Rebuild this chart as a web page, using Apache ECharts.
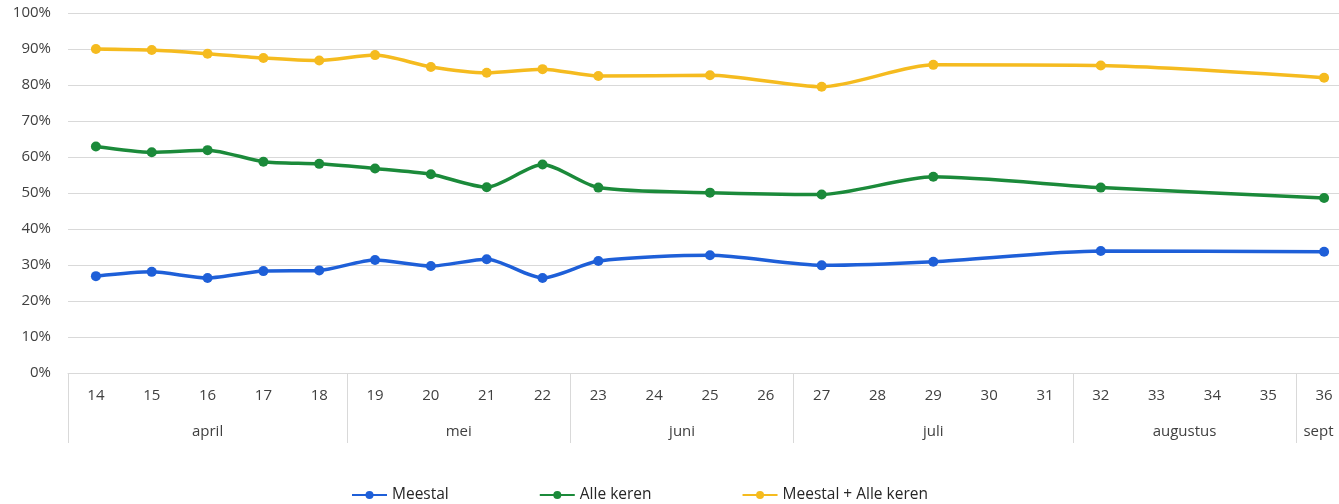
<!DOCTYPE html>
<html>
<head>
<meta charset="utf-8">
<script src="https://cdn.jsdelivr.net/npm/echarts@6/dist/echarts.min.js"></script>
<style>html,body{margin:0;padding:0;background:#fff;}#c{width:1339px;height:504px;}</style>
</head>
<body>
<div id="c"></div>
<script>
const weeks = ['14','15','16','17','18','19','20','21','22','23','24','25','26','27','28','29','30','31','32','33','34','35','36'];
const monthLabels = ['april','mei','juni','juli','augustus','sept'];
const monthCenters = [2, 6.5, 10.5, 15, 19.5, 21.9];
const monthBounds = [-0.5, 4.5, 8.5, 12.5, 17.5, 21.5];
const meestal =      [26.9, 28.1, 26.4, 28.3, 28.5, 31.4, 29.7, 31.6, 26.4, 31.1, null, 32.7, null, 29.9, null, 30.9, null, null, 33.9, null, null, null, 33.7];
const alleKeren =    [62.9, 61.3, 61.9, 58.7, 58.1, 56.8, 55.2, 51.6, 57.9, 51.5, null, 50.1, null, 49.6, null, 54.5, null, null, 51.5, null, null, null, 48.6];
const meestalAlle =  [90.0, 89.7, 88.7, 87.5, 86.8, 88.3, 85.0, 83.4, 84.4, 82.5, null, 82.7, null, 79.5, null, 85.6, null, null, 85.4, null, null, null, 82.0];
const seriesNames = ['Meestal', 'Alle keren', 'Meestal + Alle keren'];
const colors = ['#1e5fd8', '#1b8a3a', '#f5bb1f'];

const chart = echarts.init(document.getElementById('c'), null, {renderer: 'canvas'});
const font = '"Open Sans", "Noto Sans", sans-serif';
const mk = (name, data, color) => ({
  name: name, type: 'line', data: data, smooth: 0.25, connectNulls: true,
  symbol: 'circle', symbolSize: 10,
  lineStyle: {width: 3.5, color: color}, itemStyle: {color: color}
});
chart.setOption({
  animation: false,
  textStyle: {fontFamily: font},
  grid: {left: 68, right: -13, top: 13, bottom: 131, outerBoundsMode: 'none', containLabel: false},
  legend: {
    left: 346, top: 482, itemWidth: 35, itemHeight: 10, itemGap: 90,
    textStyle: {fontSize: 15.5, color: '#262626', fontFamily: font},
    data: seriesNames
  },
  xAxis: [
    {
      type: 'category', data: weeks, boundaryGap: true,
      axisLine: {lineStyle: {color: '#d9d9d9'}},
      axisTick: {show: false},
      axisLabel: {interval: 0, margin: 15, fontSize: 15, color: '#404040', fontFamily: font}
    },
    {
      type: 'value', min: -0.5, max: 22.5, position: 'bottom',
      axisLine: {show: false},
      splitLine: {show: false},
      axisTick: {show: true, customValues: monthBounds, length: 70, lineStyle: {color: '#d9d9d9'}},
      axisLabel: {
        customValues: monthCenters, margin: 51, fontSize: 15, color: '#404040', fontFamily: font,
        formatter: function (v) {
          const i = monthCenters.indexOf(v);
          return i >= 0 ? monthLabels[i] : '';
        }
      }
    }
  ],
  yAxis: {
    type: 'value', min: 0, max: 100, interval: 10,
    axisLine: {show: false}, axisTick: {show: false},
    splitLine: {lineStyle: {color: '#d9d9d9'}},
    axisLabel: {formatter: '{value}%', fontSize: 15, color: '#404040', margin: 17, fontFamily: font}
  },
  series: [
    mk(seriesNames[0], meestal, colors[0]),
    mk(seriesNames[1], alleKeren, colors[1]),
    mk(seriesNames[2], meestalAlle, colors[2])
  ]
});
</script>
</body>
</html>
